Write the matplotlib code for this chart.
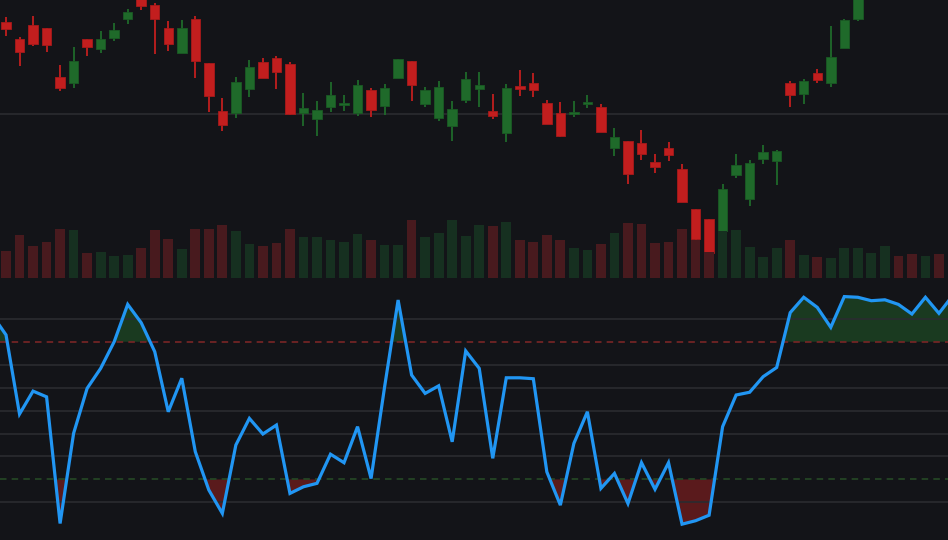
import numpy as np
import matplotlib
matplotlib.use('Agg')
import matplotlib.pyplot as plt

# candles, one per session (index 0..70)
opens = [109.17, 107.47, 108.87, 108.57, 103.67, 103.13, 107.47, 106.53, 107.63, 109.53,
         111.5, 110.9, 108.6, 106.13, 109.5, 105.07, 100.3, 100.13, 102.53, 105.2,
         105.57, 105.0, 100.1, 99.53, 100.73, 100.93, 100.07, 102.4, 100.83, 103.63,
         105.3, 101.03, 99.63, 98.83, 101.43, 102.47, 100.27, 98.13, 102.77, 103.1,
         101.07, 100.07, 99.97, 100.97, 100.67, 96.63, 97.27, 97.07, 95.17, 96.6,
         94.5, 90.57, 89.5, 88.3, 93.93, 91.53, 95.53, 95.33, 103.1, 102.03,
         104.1, 103.13, 106.63, 109.5, 112.1, 113.2, 114.6, 113.9, 113.2, 114.8, 114.1]
highs = [109.73, 107.67, 109.8, 108.57, 104.9, 106.7, 107.47, 108.3, 109.1, 110.5,
         111.7, 111.1, 109.3, 109.4, 109.8, 105.07, 101.6, 103.7, 105.4, 105.57,
         105.8, 105.2, 102.1, 101.3, 103.2, 101.9, 103.4, 102.6, 103.0, 105.5,
         105.3, 102.7, 103.3, 101.3, 104.2, 104.2, 102.0, 103.0, 104.4, 104.1,
         101.4, 101.2, 101.3, 101.9, 100.97, 98.6, 97.27, 98.4, 96.0, 97.2,
         95.0, 90.57, 89.5, 93.0, 96.0, 95.4, 96.9, 96.4, 103.3, 103.5,
         104.5, 108.77, 109.5, 112.6, 113.6, 114.8, 115.0, 114.2, 115.1, 115.2, 115.6]
lows = [107.83, 104.83, 106.83, 106.23, 102.33, 102.63, 105.83, 106.13, 107.33, 109.03,
        110.43, 106.03, 106.3, 106.13, 103.63, 100.23, 98.33, 99.63, 101.73, 103.63,
        102.53, 99.93, 98.83, 97.83, 100.23, 100.33, 99.83, 99.73, 99.93, 103.63,
        101.33, 100.73, 99.33, 97.33, 101.13, 100.73, 99.53, 97.23, 101.83, 101.73,
        98.97, 97.67, 99.73, 100.63, 98.17, 95.83, 93.03, 95.43, 94.13, 95.33,
        91.27, 87.47, 85.4, 88.3, 93.63, 90.83, 95.03, 92.93, 100.73, 101.03,
        103.13, 102.73, 106.63, 109.33, 111.8, 112.9, 113.6, 112.8, 113.0, 113.9, 113.8]
closes = [108.47, 106.23, 107.03, 106.87, 102.57, 105.3, 106.67, 107.5, 108.4, 110.2,
          110.77, 109.53, 107.03, 108.6, 105.27, 101.77, 98.87, 103.2, 104.7, 103.63,
          104.17, 100.03, 100.63, 100.4, 101.9, 101.1, 102.9, 100.37, 102.6, 105.5,
          102.87, 102.4, 102.7, 100.5, 103.5, 102.87, 99.77, 102.6, 102.47, 102.37,
          98.97, 97.77, 100.17, 101.2, 98.17, 97.7, 93.97, 95.97, 94.67, 95.87,
          91.27, 87.53, 86.17, 92.5, 94.9, 95.1, 96.2, 96.3, 101.87, 103.3,
          103.43, 105.7, 109.4, 112.2, 113.3, 114.5, 113.9, 113.1, 114.8, 114.1, 115.3]
volumes = [2.67, 4.33, 3.2, 3.63, 4.9, 4.77, 2.5, 2.6, 2.17, 2.3,
           3.03, 4.8, 3.9, 2.9, 4.87, 4.87, 5.3, 4.67, 3.4, 3.2,
           3.5, 4.87, 4.1, 4.1, 3.83, 3.63, 4.4, 3.83, 3.3, 3.3,
           5.77, 4.1, 4.5, 5.8, 4.23, 5.33, 5.17, 5.57, 3.83, 3.6,
           4.3, 3.8, 2.97, 2.83, 3.37, 4.5, 5.5, 5.4, 3.47, 3.63,
           4.9, 3.84, 2.6, 4.7, 4.77, 3.07, 2.1, 3.0, 3.77, 2.27,
           2.07, 2.0, 2.97, 2.97, 2.5, 3.17, 2.17, 2.37, 2.23, 2.37, 2.7]

# oscillator, sampled from index -1 to 70
osc = [91.5, 83.0, 48.5, 58.5, 56.0, 0.8, 40.1, 59.7, 68.4, 80.0,
       96.3, 88.3, 75.7, 49.5, 64.1, 32.1, 15.4, 5.2, 35.0, 46.6,
       39.8, 43.7, 13.9, 16.8, 18.3, 31.0, 27.3, 43.0, 20.4, 60.3,
       98.2, 65.5, 57.5, 60.8, 36.4, 76.0, 68.4, 29.2, 64.3, 64.3,
       63.9, 23.3, 8.8, 35.7, 49.5, 16.1, 22.6, 9.5, 27.3, 15.7,
       27.3, 0.5, 2.0, 4.4, 43.0, 56.8, 58.0, 64.8, 68.8, 92.7,
       99.4, 95.0, 86.3, 99.7, 99.4, 97.9, 98.3, 96.3, 92.1, 99.4,
       92.4, 100.0]
upper_level = 80
lower_level = 20

bg = '#131418'
up_col = '#1f6a2a'
down_col = '#c21e1e'
vol_up = '#163020'
vol_down = '#481a1e'

idx = np.arange(len(opens))
o = np.array(opens)
c = np.array(closes)
rising = c >= o

fig = plt.figure(figsize=(9.48, 5.4), dpi=100, facecolor=bg)
ax = fig.add_axes([0, 262 / 540, 1, 278 / 540])
rsi = fig.add_axes([0, 0, 1, 262 / 540])

xlim = (-0.444, 69.67)

# price panel
ax.set_facecolor(bg)
ax.axhline(100, color='#2a2c30', lw=1.2, zorder=0)
colors = np.where(rising, up_col, down_col)
ax.vlines(idx, lows, highs, colors=colors, lw=1.3, zorder=2)
body = np.maximum(np.abs(c - o), 0.15)
ax.bar(idx, body, bottom=np.minimum(o, c), width=0.7, color=colors,
       edgecolor=np.where(rising, '#1a5a24', '#a81a1a'), linewidth=0.6, zorder=3)
ax.set_xlim(*xlim)
ax.set_ylim(83.63, 111.4)
ax.axis('off')

vax = ax.twinx()
vax.bar(idx, volumes, width=0.72, color=np.where(rising, vol_up, vol_down), zorder=2)
vax.set_ylim(0, 27.77)
vax.set_xlim(*xlim)
vax.axis('off')

# oscillator panel
rsi.set_facecolor(bg)
ox = np.arange(-1, len(osc) - 1)
oy = np.array(osc)
for lvl in [10, 30, 40, 50, 60, 70, 90]:
    rsi.axhline(lvl, color='#2a2c30', lw=1.2, zorder=2)
rsi.fill_between(ox, oy, upper_level, where=oy > upper_level, interpolate=True,
                 color='#1a3a20', lw=0, zorder=1)
rsi.fill_between(ox, oy, lower_level, where=oy < lower_level, interpolate=True,
                 color='#5a1a1c', lw=0, zorder=1)
rsi.axhline(upper_level, color='#7a2626', lw=1.2, ls=(0, (3.9, 3.1)), zorder=2)
rsi.axhline(lower_level, color='#264a26', lw=1.2, ls=(0, (3.9, 3.1)), zorder=2)
rsi.plot(ox, oy, color='#2196f3', lw=2.3, solid_joinstyle='miter', zorder=4)
rsi.set_xlim(*xlim)
rsi.set_ylim(-6.4, 107.8)
rsi.axis('off')

fig.savefig('out.png', dpi=100, facecolor=bg)
